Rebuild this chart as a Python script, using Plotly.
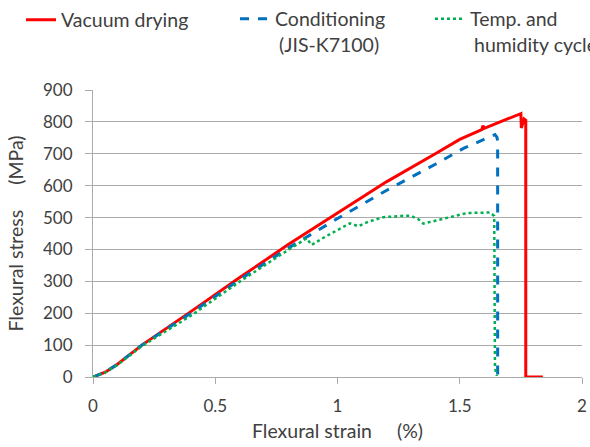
import plotly.graph_objects as go

# Data
red_x = [0, 0.05, 0.1, 0.2, 0.4, 0.6, 0.8, 1.0, 1.2, 1.4, 1.5, 1.59, 1.595, 1.60, 1.7, 1.75, 1.752, 1.763, 1.77, 1.77, 1.84]
red_y = [0, 15, 40, 100, 205, 312, 416, 515, 612, 700, 745, 776, 788, 780, 810, 826, 781, 809, 805, 0, 0]

blue_x = [0, 0.05, 0.1, 0.2, 0.4, 0.6, 0.8, 1.0, 1.2, 1.4, 1.515, 1.6, 1.644, 1.652, 1.655, 1.655, 1.675]
blue_y = [0, 15, 40, 100, 200, 305, 405, 497, 585, 667, 717, 745, 760, 752, 740, 0, 0]

green_x = [0, 0.05, 0.1, 0.2, 0.4, 0.6, 0.765, 0.874, 0.894, 0.95, 1.051, 1.085, 1.126, 1.187, 1.256, 1.297,
           1.33, 1.351, 1.4, 1.46, 1.528, 1.624, 1.641, 1.644, 1.652]
green_y = [0, 14, 38, 97, 192, 299, 382, 435, 414, 440, 482, 473, 487, 501, 505, 506,
           495, 481, 490, 501, 514, 516, 505, 28, 3]

names = ["Vacuum drying", "Conditioning", "Temp. and"]
second_lines = ["(JIS-K7100)", "humidity cycle"]
x_ticks = [0, 0.5, 1, 1.5, 2]
x_tick_text = ["0", "0.5", "1", "1.5", "2"]
y_ticks = [0, 100, 200, 300, 400, 500, 600, 700, 800, 900]

FONT = "Lato"
TXT = "#404040"
GRID = "#ABABAB"
TICK_SIZE = 17
BIG_SIZE = 19.5

fig = go.Figure()
fig.add_trace(go.Scatter(x=red_x, y=red_y, mode="lines", name=names[0],
                         line=dict(color="#FF0000", width=3), legend="legend"))
fig.add_trace(go.Scatter(x=blue_x, y=blue_y, mode="lines", name=names[1],
                         line=dict(color="#0070C0", width=3, dash="dash"), legend="legend2"))
fig.add_trace(go.Scatter(x=green_x, y=green_y, mode="lines", name=names[2],
                         line=dict(color="#00B050", width=2.5, dash="dot"), legend="legend3"))

W, H = 590, 447
L, R, T, B = 93, 8, 90, 70
pw, ph = W - L - R, H - T - B

def px_to_paper_x(px):
    return (px - L) / pw

def py_to_paper_y(py):
    return (H - B - py) / ph

leg_common = dict(orientation="h", xref="container", yref="container", yanchor="middle",
                  xanchor="left", font=dict(family=FONT, size=BIG_SIZE, color=TXT),
                  bgcolor="rgba(0,0,0,0)", borderwidth=0, itemclick=False)

fig.update_layout(
    width=W, height=H,
    margin=dict(l=L, r=R, t=T, b=B, autoexpand=False),
    paper_bgcolor="white", plot_bgcolor="white",
    font=dict(family=FONT, size=TICK_SIZE, color=TXT),
    showlegend=True,
    legend=dict(x=21 / W, y=1 - 20 / H, **leg_common),
    legend2=dict(x=235 / W, y=1 - 19 / H, **leg_common),
    legend3=dict(x=430 / W, y=1 - 19 / H, **leg_common),
    xaxis=dict(range=[0, 2], tickvals=x_ticks, ticktext=x_tick_text,
               showgrid=False, zeroline=False, showline=True, linecolor=GRID, linewidth=1,
               ticks="outside", ticklen=6, tickcolor=GRID, ticklabelstandoff=8,
               tickfont=dict(family=FONT, size=TICK_SIZE, color=TXT),
               title=dict(text="Flexural strain \u3000(%)", font=dict(family=FONT, size=BIG_SIZE, color=TXT), standoff=8)),
    yaxis=dict(range=[0, 900], tickvals=y_ticks,
               showgrid=True, gridcolor=GRID, gridwidth=1, zeroline=False,
               showline=True, linecolor=GRID, linewidth=1,
               ticks="outside", ticklen=7, tickcolor=GRID, ticklabelstandoff=9,
               tickfont=dict(family=FONT, size=TICK_SIZE, color=TXT),
               title=dict(text="Flexural stress \u3000(MPa)", font=dict(family=FONT, size=BIG_SIZE, color=TXT), standoff=14)),
)

fig.add_annotation(x=px_to_paper_x(277), y=py_to_paper_y(45), xref="paper", yref="paper",
                   text=second_lines[0], showarrow=False, xanchor="left", yanchor="middle",
                   font=dict(family=FONT, size=BIG_SIZE, color=TXT))
fig.add_annotation(x=px_to_paper_x(472), y=py_to_paper_y(45), xref="paper", yref="paper",
                   text=second_lines[1], showarrow=False, xanchor="left", yanchor="middle",
                   font=dict(family=FONT, size=BIG_SIZE, color=TXT))

fig.write_html("out.html")
